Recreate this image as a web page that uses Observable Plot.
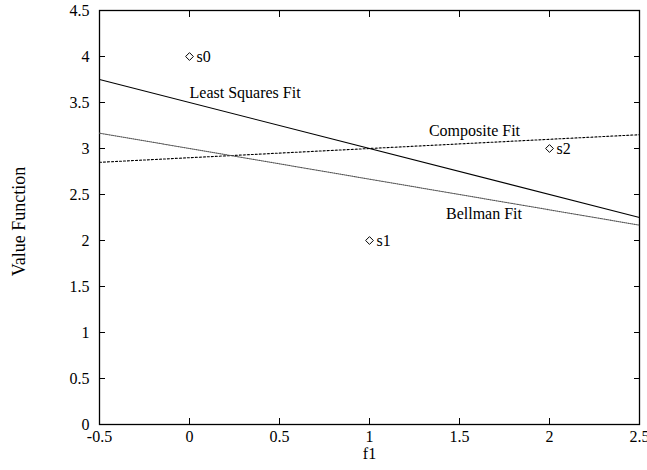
<!DOCTYPE html>
<html>
<head>
<meta charset="utf-8">
<script src="https://cdn.jsdelivr.net/npm/d3@7"></script>
<script src="https://cdn.jsdelivr.net/npm/@observablehq/plot@0.6"></script>
<style>
  html, body { margin: 0; padding: 0; background: #fff; }
  svg text { font-family: "Liberation Serif", "Times New Roman", serif !important; }
</style>
</head>
<body>
<div id="chart"></div>
<script>
// States (points)
const stateNames = ["s0", "s1", "s2"];
const stateF1 = [0, 1, 2];
const stateValue = [4, 2, 3];

// Fitted lines: value = intercept + slope * f1
const fitNames = ["Least Squares Fit", "Composite Fit", "Bellman Fit"];
const fitIntercepts = [3.5, 2.9, 3.0];
const fitSlopes = [-0.5, 0.1, -1 / 3];
const fitLabelF1 = [0, 1.33, 1.425];
const fitLabelValue = [3.6, 3.19, 2.29];

// Axis ticks
const xTicks = [-0.5, 0, 0.5, 1, 1.5, 2, 2.5];
const yTicks = [0, 0.5, 1, 1.5, 2, 2.5, 3, 3.5, 4, 4.5];
const xDomain = [-0.5, 2.5];
const yDomain = [0, 4.5];

const states = stateNames.map((n, i) => ({name: n, f1: stateF1[i], v: stateValue[i]}));
const fitLine = (i) => xDomain.map(x => ({f1: x, v: fitIntercepts[i] + fitSlopes[i] * x}));
const fitLabels = fitNames.map((n, i) => ({name: n, f1: fitLabelF1[i], v: fitLabelValue[i]}));

const fmt = d => String(d);
const font = "Liberation Serif, Times New Roman, serif";

const chart = Plot.plot({
  width: 647,
  height: 470,
  marginLeft: 99,
  marginRight: 8,
  marginTop: 10,
  marginBottom: 46,
  style: {fontFamily: font, fontSize: "16px", background: "#fff", color: "#000"},
  x: {domain: xDomain},
  y: {domain: yDomain},
  marks: [
    // inward ticks on all four sides
    Plot.axisX({anchor: "bottom", ticks: xTicks, tickSize: -6, tickFormat: () => "", label: null}),
    Plot.axisX({anchor: "top", ticks: xTicks, tickSize: -6, tickFormat: () => "", label: null}),
    Plot.axisY({anchor: "left", ticks: yTicks, tickSize: -6, tickFormat: () => "", label: null}),
    Plot.axisY({anchor: "right", ticks: yTicks, tickSize: -6, tickFormat: () => "", label: null}),
    // tick labels
    Plot.axisX({anchor: "bottom", ticks: xTicks, tickSize: 0, tickPadding: 6, tickFormat: fmt,
      fontSize: 16, fontFamily: font, label: null}),
    Plot.axisY({anchor: "left", ticks: yTicks, tickSize: 0, tickPadding: 10, tickFormat: fmt,
      fontSize: 16, fontFamily: font, label: null}),
    // axis titles
    Plot.text(["f1"], {frameAnchor: "bottom", dy: 34, fontSize: 16, fontFamily: font, fill: "#000"}),
    Plot.text(["Value Function"], {frameAnchor: "left", textAnchor: "middle", dx: -80, dy: 4, rotate: -90,
      fontSize: 18, fontFamily: font, fill: "#000"}),
    Plot.frame({stroke: "#000", strokeWidth: 1.3}),
    Plot.line(fitLine(0), {x: "f1", y: "v", stroke: "#000", strokeWidth: 1.1}),
    Plot.line(fitLine(1), {x: "f1", y: "v", stroke: "#000", strokeWidth: 1.1, strokeDasharray: "2,2"}),
    Plot.line(fitLine(2), {x: "f1", y: "v", stroke: "#555", strokeWidth: 1.1, strokeDasharray: "1,1"}),
    Plot.text(fitLabels, {x: "f1", y: "v", text: "name", textAnchor: "start", fontSize: 16, fontFamily: font, fill: "#000"}),
    Plot.dot(states, {x: "f1", y: "v", symbol: "diamond2", r: 3.5, stroke: "#000", strokeWidth: 1, fill: "#fff"}),
    Plot.text(states, {x: "f1", y: "v", text: "name", textAnchor: "start", dx: 7, fontSize: 16, fontFamily: font, fill: "#000"})
  ]
});

document.getElementById("chart").appendChild(chart);
</script>
</body>
</html>
